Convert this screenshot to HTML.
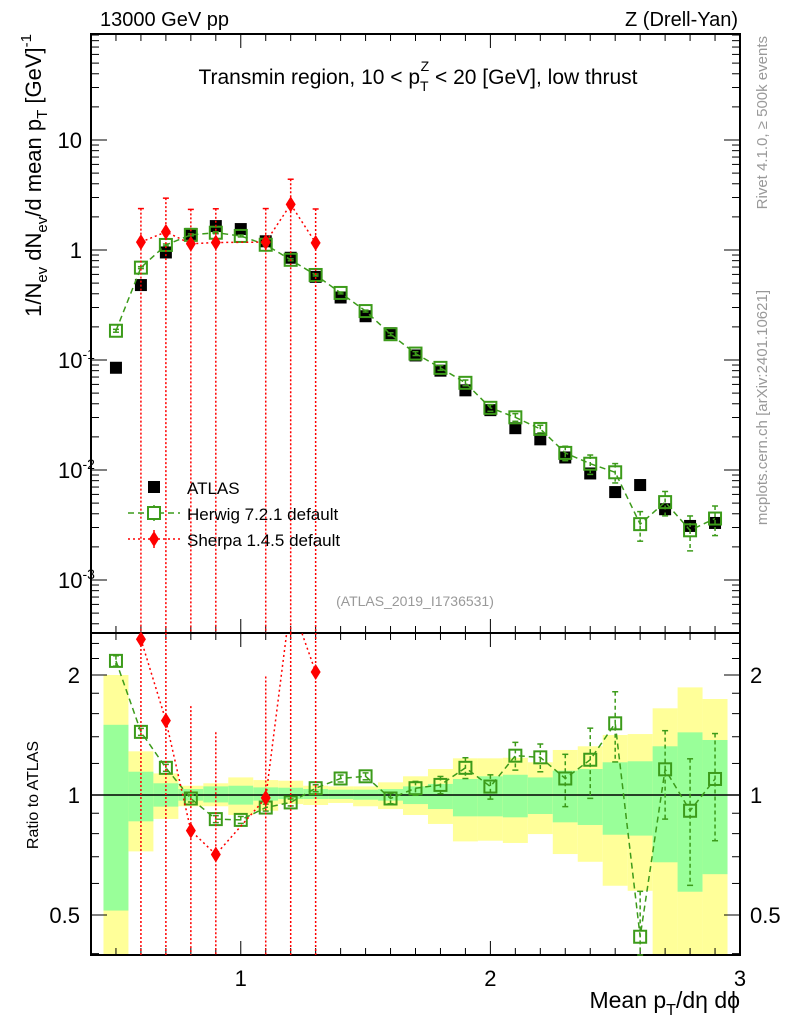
<!DOCTYPE html>
<html><head><meta charset="utf-8"><style>
body{margin:0;background:#fff;}
svg{display:block;font-family:"Liberation Sans",sans-serif;}
</style></head><body>
<svg id="c" width="786" height="1024" xmlns="http://www.w3.org/2000/svg"></svg>
<script>
const xCenters=[0.5,0.6,0.7,0.8,0.9,1.0,1.1,1.2,1.3,1.4,1.5,1.6,1.7,1.8,1.9,2.0,2.1,2.2,2.3,2.4,2.5,2.6,2.7,2.8,2.9];
const atlasVals=[0.085,0.48,0.95,1.4,1.65,1.55,1.2,0.85,0.57,0.37,0.25,0.175,0.11,0.08,0.053,0.035,0.024,0.019,0.013,0.0093,0.0063,0.0073,0.0044,0.0031,0.0033];
const herwigRatio=[2.17,1.44,1.17,0.98,0.87,0.866,0.93,0.958,1.04,1.10,1.114,0.98,1.04,1.06,1.17,1.05,1.255,1.243,1.10,1.226,1.513,0.441,1.16,0.913,1.097];
const herwigErr=[0.03,0.02,0.02,0.02,0.02,0.02,0.02,0.02,0.02,0.02,0.02,0.03,0.04,0.05,0.06,0.07,0.08,0.08,0.15,0.2,0.2,0.3,0.25,0.35,0.3];
const sherpaX=[0.6,0.7,0.8,0.9,1.1,1.2,1.3];
const sherpaVals=[1.18,1.46,1.14,1.17,1.18,2.6,1.16];
const sherpaErrUp=[1.2,1.5,1.2,1.2,1.2,1.8,1.2];
const yellowHi=[2.0,1.287,1.133,1.055,1.070,1.107,1.090,1.086,1.055,1.051,1.051,1.076,1.114,1.162,1.236,1.236,1.240,1.208,1.297,1.325,1.414,1.422,1.650,1.862,1.741];
const greenHi=[1.50,1.144,1.070,1.035,1.051,1.055,1.045,1.043,1.035,1.031,1.031,1.035,1.051,1.066,1.097,1.114,1.124,1.107,1.151,1.162,1.208,1.215,1.325,1.436,1.374];
const greenLo=[0.513,0.859,0.935,0.968,0.958,0.946,0.968,0.977,0.977,0.977,0.973,0.968,0.949,0.922,0.884,0.884,0.879,0.896,0.854,0.841,0.795,0.791,0.678,0.572,0.633];
const yellowLo=[0.3,0.722,0.871,0.937,0.937,0.891,0.913,0.949,0.944,0.955,0.937,0.922,0.891,0.846,0.765,0.768,0.758,0.798,0.711,0.680,0.592,0.575,0.3,0.3,0.3];
const xTickLabels=[1,2,3];
const mainTickExp=[1,0,-1,-2,-3];
const ratioTicks=[2,1,0.5];

const svg=document.getElementById('c');
const NS='http://www.w3.org/2000/svg';
const L=91,R=740,T=34,MB=633,RB=955;
const X=v=>L+(v-0.4)/(3.0-0.4)*(R-L);
const Y=v=>250-110*Math.log10(v);
const RY=v=>795-120*Math.log2(v);
const clipM=v=>Math.max(T,Math.min(MB,v));
const clipR=v=>Math.max(MB,Math.min(RB,v));
function el(tag,attrs,parent){const e=document.createElementNS(NS,tag);for(const k in attrs)e.setAttribute(k,attrs[k]);(parent||svg).appendChild(e);return e;}
function txt(x,y,s,attrs,parent){const e=el('text',Object.assign({x:x,y:y},attrs||{}),parent);e.innerHTML=s;return e;}

const bands=el('g',{});


xCenters.forEach((c,i)=>{
  const x0=X(c-0.05),x1=X(c+0.05);
  const yb=el('rect',{x:x0,y:clipR(RY(yellowHi[i])),width:x1-x0,height:clipR(RY(yellowLo[i]))-clipR(RY(yellowHi[i])),fill:'#ffff99'},bands);
  
  
  const gb=el('rect',{x:x0,y:clipR(RY(greenHi[i])),width:x1-x0,height:clipR(RY(greenLo[i]))-clipR(RY(greenHi[i])),fill:'#99ff99'},bands);
  
  
});
el('line',{x1:L,x2:R,y1:RY(1),y2:RY(1),stroke:'#000','stroke-width':1.5});

const f1=el('rect',{x:L,y:T,width:R-L,height:MB-T,fill:'none',stroke:'#000','stroke-width':2});


const f2=el('rect',{x:L,y:MB,width:R-L,height:RB-MB,fill:'none',stroke:'#000','stroke-width':2});



for(let k=4;k<=30;k++){
  const v=k/10,x=X(v),len=(k%10===0)?14:7;
  [[T,1],[MB,-1],[MB,1],[RB,-1]].forEach(([y,d])=>el('line',{x1:x,x2:x,y1:y,y2:y+d*len,stroke:'#000','stroke-width':1}));
}
xTickLabels.forEach(v=>{const t=txt(X(v),986,v,{'font-size':22,'text-anchor':'middle'});});
for(let e=-4;e<=1;e++){for(let m=1;m<10;m++){const v=m*Math.pow(10,e),y=Y(v);if(y<T||y>MB)continue;const len=m===1?16:8;
  el('line',{x1:L,x2:L+len,y1:y,y2:y,stroke:'#000'});el('line',{x1:R,x2:R-len,y1:y,y2:y,stroke:'#000'});}}
mainTickExp.forEach(e=>{const y=Y(Math.pow(10,e))+8;let s;
  if(e===1)s='10';else if(e===0)s='1';else s='10<tspan dy="-9" font-size="14">'+e+'</tspan>';
  const t=txt(e<0?58:82,y,s,{'font-size':22,'text-anchor':e<0?'start':'end'});
  });
[0.4,0.5,0.6,0.7,0.8,0.9,1,1.2,1.4,1.6,1.8,2,2.2,2.4].forEach(v=>{const y=RY(v);if(y<MB||y>RB)return;const len=[0.5,1,2].includes(v)?16:8;
  el('line',{x1:L,x2:L+len,y1:y,y2:y,stroke:'#000'});el('line',{x1:R,x2:R-len,y1:y,y2:y,stroke:'#000'});});
ratioTicks.forEach(v=>{
  const a=txt(80,RY(v)+8,v,{'font-size':22,'text-anchor':'end'});
  const b=txt(750,RY(v)+8,v,{'font-size':22});});

const GREEN='#3c9b1a',RED='#ff0000';
const sh=el('g',{});


sherpaX.forEach((c,i)=>{const x=X(c),v=sherpaVals[i];
  el('line',{x1:x,x2:x,y1:clipM(Y(v+sherpaErrUp[i])),y2:MB,stroke:RED,'stroke-width':1.5,'stroke-dasharray':'2,2'},sh);
  el('line',{x1:x-3,x2:x+3,y1:Y(v+sherpaErrUp[i]),y2:Y(v+sherpaErrUp[i]),stroke:RED,'stroke-width':1.5},sh);
  const ri=xCenters.indexOf(c),r=v/atlasVals[ri];
  el('line',{x1:x,x2:x,y1:clipR(RY(r*(1+sherpaErrUp[i]/v))),y2:RB,stroke:RED,'stroke-width':1.5,'stroke-dasharray':'2,2'},sh);
});
el('polyline',{points:sherpaX.map((c,i)=>X(c)+','+Y(sherpaVals[i])).join(' '),fill:'none',stroke:RED,'stroke-width':1.5,'stroke-dasharray':'2,3'},sh);
const rc=el('clipPath',{id:'rclip'});el('rect',{x:L,y:MB,width:R-L,height:RB-MB},rc);
el('polyline',{points:sherpaX.map((c,i)=>X(c)+','+RY(sherpaVals[i]/atlasVals[xCenters.indexOf(c)])).join(' '),fill:'none',stroke:RED,'stroke-width':1.5,'stroke-dasharray':'2,3','clip-path':'url(#rclip)'},sh);

const at=el('g',{});


xCenters.forEach((c,i)=>{const m=el('rect',{x:X(c)-6,y:Y(atlasVals[i])-6,width:12,height:12,fill:'#000'},at);
  });

const hw=el('g',{});


const hv=xCenters.map((c,i)=>herwigRatio[i]*atlasVals[i]);
el('polyline',{points:xCenters.map((c,i)=>X(c)+','+Y(hv[i])).join(' '),fill:'none',stroke:GREEN,'stroke-width':1.5,'stroke-dasharray':'6,4'},hw);
el('polyline',{points:xCenters.map((c,i)=>X(c)+','+RY(herwigRatio[i])).join(' '),fill:'none',stroke:GREEN,'stroke-width':1.5,'stroke-dasharray':'6,4'},hw);
xCenters.forEach((c,i)=>{const x=X(c);
  [[Y,hv[i],clipM],[RY,herwigRatio[i],clipR]].forEach(([F,v,C])=>{
    const y1=C(F(v*(1+herwigErr[i]))),y2=C(F(v*Math.max(0.05,1-herwigErr[i])));
    el('line',{x1:x,x2:x,y1:y1,y2:y2,stroke:GREEN,'stroke-width':1.5,'stroke-dasharray':'4,3'},hw);
    el('line',{x1:x-3,x2:x+3,y1:y1,y2:y1,stroke:GREEN,'stroke-width':1.5},hw);
    el('line',{x1:x-3,x2:x+3,y1:y2,y2:y2,stroke:GREEN,'stroke-width':1.5},hw);
    const m=el('rect',{x:x-6,y:F(v)-6,width:12,height:12,fill:'none',stroke:GREEN,'stroke-width':2},hw);
    
  });});
sherpaX.forEach((c,i)=>{const x=X(c);
  [Y(sherpaVals[i]),RY(sherpaVals[i]/atlasVals[xCenters.indexOf(c)])].forEach((y,k)=>{
    if(k===1&&(y<MB-4||y>RB))return;
    const d=el('polygon',{points:`${x},${y-8} ${x+5},${y} ${x},${y+8} ${x-5},${y}`,fill:RED},sh);
    });});
svg.appendChild(sh);

const lg=el('g',{});


el('rect',{x:148,y:481,width:12,height:12,fill:'#000'},lg);
txt(187,494,'ATLAS',{'font-size':17},lg);
el('line',{x1:128,x2:180,y1:513,y2:513,stroke:GREEN,'stroke-width':1.5,'stroke-dasharray':'6,4'},lg);
el('line',{x1:154,x2:154,y1:505,y2:521,stroke:GREEN,'stroke-width':1.5},lg);
el('rect',{x:148,y:507,width:12,height:12,fill:'#fff',stroke:GREEN,'stroke-width':2},lg);
txt(187,520,'Herwig 7.2.1 default',{'font-size':17},lg);
el('line',{x1:128,x2:180,y1:539,y2:539,stroke:RED,'stroke-width':1.5,'stroke-dasharray':'2,3'},lg);
el('line',{x1:154,x2:154,y1:530,y2:548,stroke:RED,'stroke-width':1.5,'stroke-dasharray':'2,2'},lg);
el('polygon',{points:'154,531 159,539 154,547 149,539',fill:RED},lg);
txt(187,546,'Sherpa 1.4.5 default',{'font-size':17},lg);

function lab(x,y,s,attrs,name){const t=txt(x,y,s,attrs);return t;}
lab(100,26,'13000 GeV pp',{'font-size':20},'energy-label');
lab(738,26,'Z (Drell-Yan)',{'font-size':20,'text-anchor':'end'},'process-label');
lab(418,84,'Transmin region, 10 &lt; p<tspan dy="7" font-size="14">T</tspan><tspan dy="-20" dx="-8" font-size="14">Z</tspan><tspan dy="13"> &lt; 20 [GeV], low thrust</tspan>',{'font-size':21,'text-anchor':'middle'},'plot-title');
lab(415,606,'(ATLAS_2019_I1736531)',{'font-size':14,fill:'#999','text-anchor':'middle'},'analysis-id');
lab(0,0,'1/N<tspan dy="6" font-size="15">ev</tspan><tspan dy="-6"> dN</tspan><tspan dy="6" font-size="15">ev</tspan><tspan dy="-6">/d mean p</tspan><tspan dy="6" font-size="15">T</tspan><tspan dy="-6">  [GeV]</tspan><tspan dy="-10" font-size="15">-1</tspan>',{'font-size':22,'text-anchor':'end',transform:'translate(41,34) rotate(-90)'},'y-axis-title');
lab(0,0,'Ratio to ATLAS',{'font-size':16,'text-anchor':'middle',transform:'translate(38,795) rotate(-90)'},'ratio-axis-title');
lab(740,1008,'Mean p<tspan dy="7" font-size="16">T</tspan><tspan dy="-7">/dη dϕ</tspan>',{'font-size':23,'text-anchor':'end'},'x-axis-title');
lab(0,0,'Rivet 4.1.0, ≥ 500k events',{'font-size':15,fill:'#999','text-anchor':'end',transform:'translate(767,36) rotate(-90)'},'rivet-label');
lab(0,0,'mcplots.cern.ch [arXiv:2401.10621]',{'font-size':15,fill:'#999','text-anchor':'end',transform:'translate(767,290) rotate(-90)'},'mcplots-label');
</script>
</body></html>
